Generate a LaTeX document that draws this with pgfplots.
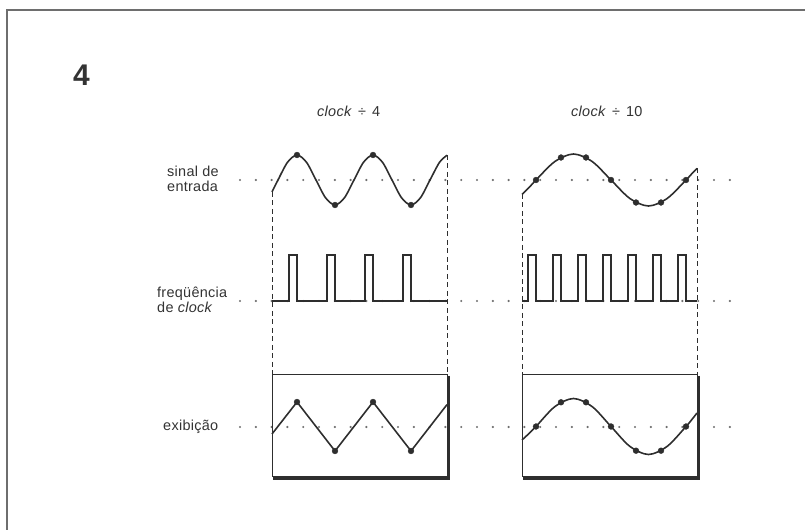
\documentclass[border=0pt]{standalone}
\usepackage{pgfplots}
\pgfplotsset{compat=1.18}
\usepackage{fontspec}
\setmainfont{Liberation Sans}
\newfontfamily\lab[LetterSpace=2]{Liberation Sans}
\definecolor{ink}{HTML}{2E2E2E}
\definecolor{txt}{HTML}{333333}
\definecolor{dotc}{HTML}{6E6E6E}

\begin{document}
\begin{tikzpicture}
\begin{axis}[
  width=805bp, height=530bp, scale only axis,
  xmin=0, xmax=805, ymin=0, ymax=530,
  y dir=reverse,
  hide axis, clip=false,
]
% page corners, for the bounding box
\coordinate (bl) at (axis cs:0,530);
\coordinate (tr) at (axis cs:805,0);

% frame
\draw[color=dotc, line width=1.2bp] (axis cs:7,530) -- (axis cs:7,10) -- (axis cs:805,10);

% dotted reference rows
\addplot[dotc, line width=2.4bp, line cap=round, dash pattern=on 0pt off 15.8bp]
  coordinates {(240,180) (740,180)};
\addplot[dotc, line width=2.4bp, line cap=round, dash pattern=on 0pt off 15.8bp]
  coordinates {(240,301) (740,301)};
\addplot[dotc, line width=2.4bp, line cap=round, dash pattern=on 0pt off 15.8bp]
  coordinates {(240,427) (740,427)};

% dashed verticals
\addplot[ink, line width=0.7bp, dash pattern=on 5bp off 3.5bp] coordinates {(272,192) (272,375)};
\addplot[ink, line width=0.7bp, dash pattern=on 5bp off 3.5bp] coordinates {(447,155) (447,375)};
\addplot[ink, line width=0.7bp, dash pattern=on 5bp off 3.5bp] coordinates {(522,194) (522,375)};
\addplot[ink, line width=0.7bp, dash pattern=on 5bp off 3.5bp] coordinates {(697,168) (697,375)};

% input signal, clock / 4
\addplot[ink, line width=1.6bp, smooth] coordinates {
 (272,191.9) (278,180) (287.5,162.3) (297,155) (306.5,162.3) (316,180)
 (325.5,197.7) (335,205) (344.5,197.7) (354,180) (363.5,162.3) (373,155)
 (382.5,162.3) (392,180) (401.5,197.7) (411,205) (420.5,197.7) (430,180)
 (439.5,162.3) (447,155.3)};
\addplot[only marks, mark=*, mark size=2.9bp, ink] coordinates {
 (297,155) (335,205) (373,155) (411,205)};

% input signal, clock / 10
\addplot[ink, line width=1.6bp, smooth] coordinates {
 (522,194.4) (529,187.6) (536,180) (554.75,161.6) (573.5,154) (592.25,161.6) (611,180)
 (629.75,198.4) (648.5,206) (667.25,198.4) (686,180) (691.5,174.1) (697,168.4)};
\addplot[only marks, mark=*, mark size=2.9bp, ink] coordinates {
 (536,180) (561,157.5) (586,157.5) (611,180) (636,202.5) (661,202.5) (686,180)};

% clock pulses
\addplot[ink, line width=1.3bp] coordinates {
 (272,301) (289,301) (289,255) (297,255) (297,301) (327,301) (327,255) (335,255)
 (335,301) (365,301) (365,255) (373,255) (373,301) (403,301) (403,255) (411,255)
 (411,301) (447,301)};
\addplot[ink, line width=1.3bp] coordinates {
 (522,301) (528,301) (528,255) (536,255) (536,301) (553,301) (553,255) (561,255)
 (561,301) (578,301) (578,255) (586,255) (586,301) (603,301) (603,255) (611,255)
 (611,301) (628,301) (628,255) (636,255) (636,301) (653,301) (653,255) (661,255)
 (661,301) (678,301) (678,255) (686,255) (686,301) (697,301)};

% display boxes with shadow
\draw[ink, line width=1bp] (axis cs:272,375) rectangle (axis cs:447,477);
\draw[ink, line width=3bp] (axis cs:448.5,376) -- (axis cs:448.5,478.5) -- (axis cs:273,478.5);
\draw[ink, line width=1bp] (axis cs:522,375) rectangle (axis cs:697,477);
\draw[ink, line width=3bp] (axis cs:698.5,376) -- (axis cs:698.5,478.5) -- (axis cs:523,478.5);

% display, clock / 4
\addplot[ink, line width=1.6bp] coordinates {
 (272,434) (297,402) (335,451) (373,402) (411,451) (447,404.6)};
\addplot[only marks, mark=*, mark size=2.9bp, ink] coordinates {
 (297,402) (335,451) (373,402) (411,451)};

% display, clock / 10
\addplot[ink, line width=1.6bp, smooth] coordinates {
 (522,440) (529,433.5) (536,426.5) (554.75,406.7) (573.5,398.5) (592.25,406.7) (611,426.5)
 (629.75,446.3) (648.5,454.5) (667.25,446.3) (686,426.5) (691.5,420) (697,413)};
\addplot[only marks, mark=*, mark size=2.9bp, ink] coordinates {
 (536,426.5) (561,402.3) (586,402.3) (611,426.5) (636,450.7) (661,450.7) (686,426.5)};

% text
\node[anchor=base west, inner sep=0pt, txt, font=\fontsize{30}{30}\bfseries\selectfont] at (axis cs:73,86) {4};
\node[anchor=base west, inner sep=0pt, txt, font=\fontsize{14.5}{16}\lab] at (axis cs:317,117) {\textit{clock}\hspace{6bp}÷\hspace{6bp}4};
\node[anchor=base west, inner sep=0pt, txt, font=\fontsize{14.5}{16}\lab] at (axis cs:571,117) {\textit{clock}\hspace{6bp}÷\hspace{6bp}10};
\node[anchor=base west, inner sep=0pt, txt, font=\fontsize{14.5}{16}\lab] at (axis cs:167,177) {sinal de};
\node[anchor=base west, inner sep=0pt, txt, font=\fontsize{14.5}{16}\lab] at (axis cs:167,192) {entrada};
\node[anchor=base west, inner sep=0pt, txt, font=\fontsize{14.5}{16}\lab] at (axis cs:157,298) {freqüência};
\node[anchor=base west, inner sep=0pt, txt, font=\fontsize{14.5}{16}\lab] at (axis cs:157,313) {de \textit{clock}};
\node[anchor=base west, inner sep=0pt, txt, font=\fontsize{14.5}{16}\lab] at (axis cs:163,431) {exibição};
\end{axis}
\pgfresetboundingbox
\useasboundingbox (bl) rectangle (tr);
\end{tikzpicture}
\end{document}
